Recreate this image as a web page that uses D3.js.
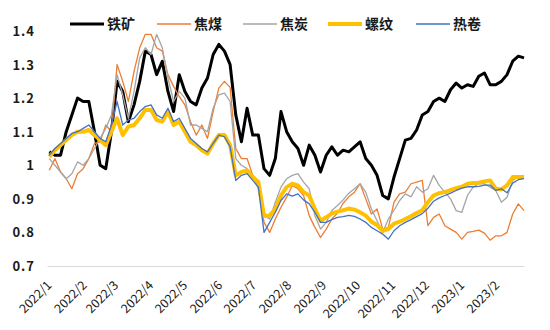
<!DOCTYPE html>
<html><head><meta charset="utf-8">
<script src="https://cdn.jsdelivr.net/npm/d3@7"></script>
<style>
html,body{margin:0;padding:0;background:#fff;}
svg{display:block;}
</style></head>
<body>
<svg id="chart" width="550" height="330"></svg>
<script>
const dates = ["2022/1/3","2022/1/8","2022/1/13","2022/1/18","2022/1/23","2022/1/28","2022/2/2","2022/2/7","2022/2/12","2022/2/17","2022/2/22","2022/2/27",
"2022/3/4","2022/3/9","2022/3/14","2022/3/19","2022/3/24","2022/3/29","2022/4/3","2022/4/8","2022/4/13","2022/4/18","2022/4/23","2022/4/28",
"2022/5/3","2022/5/8","2022/5/13","2022/5/18","2022/5/23","2022/5/28","2022/6/2","2022/6/7","2022/6/12","2022/6/17","2022/6/22","2022/6/27",
"2022/7/2","2022/7/7","2022/7/12","2022/7/17","2022/7/22","2022/7/27","2022/8/1","2022/8/6","2022/8/11","2022/8/16","2022/8/21","2022/8/26",
"2022/8/31","2022/9/5","2022/9/10","2022/9/15","2022/9/20","2022/9/25","2022/9/30","2022/10/5","2022/10/10","2022/10/15","2022/10/20","2022/10/25",
"2022/10/30","2022/11/4","2022/11/9","2022/11/14","2022/11/19","2022/11/24","2022/11/29","2022/12/4","2022/12/9","2022/12/14","2022/12/19","2022/12/24",
"2022/12/29","2023/1/3","2023/1/8","2023/1/13","2023/1/18","2023/1/23","2023/1/28","2023/2/2","2023/2/7","2023/2/12","2023/2/17","2023/2/22","2023/2/27"];

const ironOre = [1.04,1.03,1.03,1.10,1.15,1.20,1.19,1.19,1.10,1.00,0.99,1.10,
1.25,1.22,1.13,1.18,1.25,1.34,1.33,1.27,1.31,1.22,1.16,1.27,
1.22,1.19,1.18,1.23,1.26,1.33,1.36,1.34,1.30,1.15,1.07,1.17,
1.09,1.09,0.99,0.97,1.02,1.16,1.10,1.07,1.05,1.00,1.06,1.03,
0.98,1.03,1.055,1.03,1.045,1.04,1.055,1.07,1.02,1.00,0.97,0.91,
0.90,0.965,1.02,1.075,1.08,1.105,1.15,1.16,1.19,1.20,1.19,1.225,
1.245,1.23,1.24,1.235,1.265,1.275,1.24,1.24,1.25,1.27,1.31,1.325,1.32];

const cokingCoal = [0.985,1.02,0.98,0.96,0.93,0.975,0.99,1.02,1.065,1.07,1.12,1.10,
1.30,1.25,1.19,1.28,1.35,1.39,1.39,1.35,1.34,1.27,1.235,1.205,
1.18,1.13,1.09,1.12,1.08,1.16,1.23,1.25,1.232,1.05,1.02,1.02,
0.97,0.935,0.83,0.80,0.84,0.875,0.905,0.94,0.93,0.91,0.85,0.815,
0.785,0.81,0.84,0.858,0.887,0.906,0.92,0.945,0.90,0.855,0.87,0.81,
0.815,0.89,0.915,0.92,0.945,0.95,0.955,0.82,0.845,0.855,0.82,0.81,
0.80,0.78,0.80,0.803,0.807,0.798,0.777,0.79,0.79,0.80,0.855,0.885,0.865];

const coke = [1.02,1.00,0.98,0.96,0.975,1.01,1.00,1.02,1.05,1.08,1.11,1.15,
1.27,1.21,1.14,1.22,1.32,1.35,1.33,1.39,1.35,1.26,1.19,1.22,
1.20,1.12,1.12,1.11,1.10,1.17,1.21,1.215,1.19,1.02,1.00,0.99,
0.97,0.93,0.85,0.84,0.89,0.935,0.96,0.97,0.975,0.95,0.93,0.85,
0.81,0.83,0.865,0.88,0.897,0.917,0.93,0.945,0.92,0.87,0.835,0.80,
0.84,0.866,0.895,0.915,0.906,0.936,0.92,0.93,0.97,0.94,0.92,0.90,
0.865,0.86,0.91,0.935,0.945,0.945,0.935,0.925,0.89,0.905,0.955,0.966,0.97];

const rebar = [1.025,1.045,1.06,1.075,1.09,1.10,1.10,1.105,1.09,1.075,1.06,1.10,
1.14,1.09,1.115,1.12,1.14,1.165,1.165,1.135,1.13,1.16,1.12,1.13,
1.10,1.07,1.06,1.045,1.035,1.065,1.09,1.09,1.06,0.97,0.98,0.985,
0.965,0.95,0.85,0.85,0.87,0.91,0.935,0.945,0.94,0.92,0.91,0.87,
0.835,0.845,0.857,0.862,0.866,0.871,0.868,0.86,0.85,0.832,0.822,0.805,
0.81,0.826,0.832,0.84,0.848,0.858,0.866,0.89,0.91,0.917,0.92,0.926,
0.932,0.936,0.945,0.947,0.948,0.952,0.955,0.93,0.928,0.94,0.965,0.965,0.965];

const hotCoil = [1.03,1.05,1.065,1.08,1.095,1.10,1.11,1.12,1.10,1.08,1.07,1.12,
1.19,1.12,1.135,1.14,1.16,1.175,1.18,1.15,1.14,1.17,1.13,1.14,
1.11,1.08,1.065,1.05,1.04,1.065,1.09,1.085,1.055,0.955,0.97,0.975,
0.955,0.935,0.80,0.83,0.86,0.895,0.915,0.908,0.915,0.897,0.885,0.86,
0.83,0.83,0.838,0.845,0.847,0.851,0.848,0.84,0.83,0.815,0.805,0.795,
0.78,0.805,0.82,0.83,0.838,0.847,0.856,0.872,0.893,0.903,0.91,0.917,
0.925,0.932,0.936,0.936,0.937,0.941,0.941,0.925,0.93,0.918,0.947,0.957,0.96];

const seriesNames = ["铁矿","焦煤","焦炭","螺纹","热卷"];
const seriesColors = ["#000000","#ED7D31","#A5A5A5","#FFC000","#4472C4"];
const seriesWidths = [3,1.3,1.3,4,1.3];
const yTickValues = [0.7,0.8,0.9,1.0,1.1,1.2,1.3,1.4];
const monthLabels = ["2022/1","2022/2","2022/3","2022/4","2022/5","2022/6","2022/7","2022/8","2022/9","2022/10","2022/11","2022/12","2023/1","2023/2"];

const parseDay = d3.timeParse("%Y/%m/%d");
const parseMonth = d3.timeParse("%Y/%m");
const xDates = dates.map(parseDay);
const allSeries = [ironOre, cokingCoal, coke, rebar, hotCoil];

const svg = d3.select("#chart");
const font = "'Noto Sans CJK SC','Liberation Sans',sans-serif";

const x = d3.scaleTime()
  .domain([new Date(2022,0,1), new Date(2023,1,27)])
  .range([47,524]);
const y = d3.scaleLinear().domain([0.7,1.4]).range([266,31]);

// y axis labels
const yAxis = d3.axisLeft(y).tickValues(yTickValues).tickSize(0).tickPadding(0)
  .tickFormat(d => d3.format("")(+d.toFixed(1)));
const gy = svg.append("g").attr("transform","translate(35,0)").call(yAxis);
gy.select(".domain").remove();
gy.selectAll("text").attr("font-family",font).attr("font-size",13).attr("font-weight","bold")
  .attr("fill","#1a1a1a").attr("letter-spacing","1px").attr("dy","0.35em");

// x axis
const xAxis = d3.axisBottom(x).tickValues(monthLabels.map(parseMonth)).tickSize(0)
  .tickFormat((d,i) => monthLabels[i]);
const gx = svg.append("g").attr("transform","translate(0,266)").call(xAxis);
gx.select(".domain").attr("stroke","#d9d9d9").attr("stroke-width",1);
gx.selectAll(".tick text")
  .attr("font-family",font).attr("font-size",12.5).attr("fill","#1a1a1a")
  .attr("text-anchor","end").attr("dy",null).attr("y",null)
  .attr("transform","translate(5,20) rotate(-45)");

// lines
const line = d3.line().x((d,i) => x(xDates[i])).y(d => y(d));
allSeries.forEach((s,k) => {
  svg.append("path").datum(s).attr("d",line).attr("fill","none")
    .attr("stroke",seriesColors[k]).attr("stroke-width",seriesWidths[k])
    .attr("stroke-linejoin","round");
});

// legend
const legendX = [70,157,243,328,416];
const lg = svg.append("g");
seriesNames.forEach((n,k) => {
  lg.append("line").attr("x1",legendX[k]).attr("x2",legendX[k]+34)
    .attr("y1",24).attr("y2",24).attr("stroke",seriesColors[k]).attr("stroke-width",seriesWidths[k]);
  lg.append("text").attr("x",legendX[k]+37).attr("y",24).attr("dy","0.35em")
    .attr("font-family",font).attr("font-size",14).attr("font-weight","bold").attr("fill","#1a1a1a")
    .text(n);
});
</script>
</body></html>
